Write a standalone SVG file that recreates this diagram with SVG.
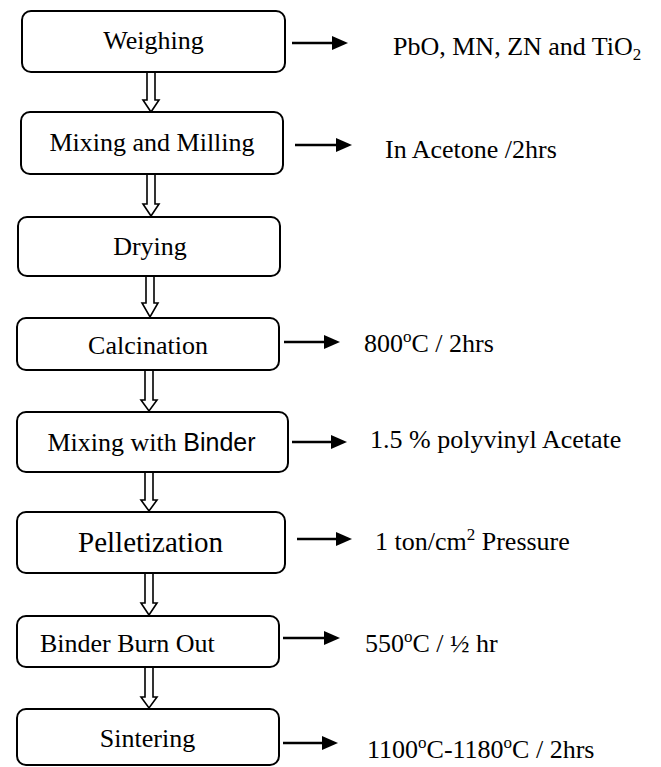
<svg xmlns="http://www.w3.org/2000/svg" width="661" height="767" viewBox="0 0 661 767">
<defs>
<style>
.box{fill:#fff;stroke:#000;stroke-width:2}
.t{font-family:"Liberation Serif","Times New Roman",serif;font-size:26px;fill:#000}
.c{text-anchor:middle}
.sans{font-family:"Liberation Sans",Arial,sans-serif;font-size:25px}
.hollow{fill:#fff;stroke:#000;stroke-width:1.6;stroke-linejoin:miter}
.line{fill:none;stroke:#000;stroke-width:2.5}
</style>
<marker id="ah" viewBox="0 0 16 14" refX="6" refY="7" markerWidth="16" markerHeight="14" markerUnits="userSpaceOnUse" orient="auto">
<path d="M0,0 L16,7 L0,14 z" fill="#000"/>
</marker>
</defs>
<rect width="661" height="767" fill="#fff"/>

<g id="connectors">
<path class="hollow" d="M147,72 V100 H143 L151,112 L159,100 H155 V72"/>
<path class="hollow" d="M147,174 V204 H143 L151,216 L159,204 H155 V174"/>
<path class="hollow" d="M146,276 V303 H142 L150,317 L158,303 H154 V276"/>
<path class="hollow" d="M145,370 V400 H141 L149,411 L157,400 H153 V370"/>
<path class="hollow" d="M145,472 V500 H141 L149,511 L157,500 H153 V472"/>
<path class="hollow" d="M145,573 V603 H141 L149,615 L157,603 H153 V573"/>
<path class="hollow" d="M145,667 V697 H141 L149,708 L157,697 H153 V667"/>
<path class="line" d="M292,43 H338" marker-end="url(#ah)"/>
<path class="line" d="M295,145 H342" marker-end="url(#ah)"/>
<path class="line" d="M284,342 H330" marker-end="url(#ah)"/>
<path class="line" d="M292,442 H337" marker-end="url(#ah)"/>
<path class="line" d="M297,539 H342" marker-end="url(#ah)"/>
<path class="line" d="M283,638 H330" marker-end="url(#ah)"/>
<path class="line" d="M283,743 H328" marker-end="url(#ah)"/>
</g>

<g id="weighing">
<rect class="box" x="22" y="11" width="263" height="61" rx="9"/>
<text class="t c" x="153.5" y="49">Weighing</text>
</g>
<g id="mixing-milling">
<rect class="box" x="21" y="112" width="262" height="62" rx="9"/>
<text class="t c" x="152" y="151">Mixing and Milling</text>
</g>
<g id="drying">
<rect class="box" x="18" y="217" width="262" height="59" rx="9"/>
<text class="t c" x="150" y="255">Drying</text>
</g>
<g id="calcination">
<rect class="box" x="17" y="318" width="262" height="52" rx="9"/>
<text class="t c" x="148" y="354">Calcination</text>
</g>
<g id="mixing-binder">
<rect class="box" x="17" y="412" width="271" height="60" rx="9"/>
<text class="t c" x="151.5" y="451">Mixing with <tspan class="sans">Binder</tspan></text>
</g>
<g id="pelletization">
<rect class="box" x="17" y="512" width="268" height="61" rx="9"/>
<text class="t c" x="150.5" y="552" style="font-size:29px">Pelletization</text>
</g>
<g id="binder-burn-out">
<rect class="box" x="17" y="616" width="262" height="51" rx="9"/>
<text class="t" x="40" y="652">Binder Burn Out</text>
</g>
<g id="sintering">
<rect class="box" x="17" y="709" width="262" height="56" rx="9"/>
<text class="t c" x="147.5" y="747">Sintering</text>
</g>

<g id="labels">
<text class="t" x="393" y="55">PbO, MN, ZN and TiO<tspan font-size="17" dy="5">2</tspan></text>
<text class="t" x="385" y="158">In Acetone /2hrs</text>
<text class="t" x="364" y="352">800<tspan font-size="17" dy="-10">o</tspan><tspan dy="10">C / 2hrs</tspan></text>
<text class="t" x="370" y="448">1.5 % polyvinyl Acetate</text>
<text class="t" x="375" y="550">1 ton/cm<tspan font-size="17" dy="-10">2</tspan><tspan dy="10"> Pressure</tspan></text>
<text class="t" x="365" y="652">550<tspan font-size="17" dy="-10">o</tspan><tspan dy="10">C / ½ hr</tspan></text>
<text class="t" x="367" y="758">1100<tspan font-size="17" dy="-10">o</tspan><tspan dy="10">C-1180</tspan><tspan font-size="17" dy="-10">o</tspan><tspan dy="10">C / 2hrs</tspan></text>
</g>
</svg>
